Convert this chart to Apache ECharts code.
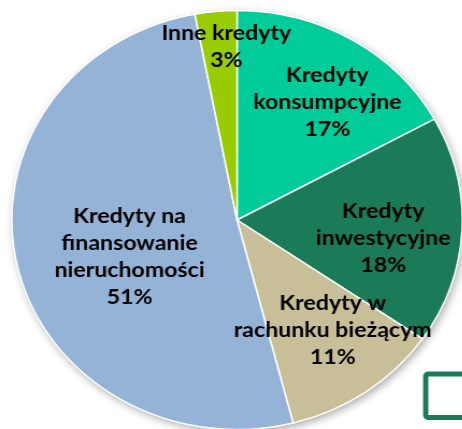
<!DOCTYPE html>
<html>
<head>
<meta charset="utf-8">
<script src="https://cdn.jsdelivr.net/npm/echarts@6/dist/echarts.min.js"></script>
<style>
  html, body { margin: 0; padding: 0; background: #fff; overflow: hidden; }
  /* the source picture is stretched horizontally, so the chart is too */
  #chart { width: 430px; height: 429px; transform: scaleX(1.075); transform-origin: 0 0; }
</style>
</head>
<body>
<div id="chart"></div>
<script>
  var categories = [
    'Kredyty\nkonsumpcyjne',
    'Kredyty\ninwestycyjne',
    'Kredyty w\nrachunku bieżącym',
    'Kredyty na\nfinansowanie\nnieruchomości',
    'Inne kredyty'
  ]
  var shares = [17, 17.6, 11.4, 51, 3]
  var colors = ['#00CC99', '#1B7B58', '#C8BF99', '#95B3D7', '#99CC00']

  // label offsets from the pie centre (px), like Excel's best fit
  var labelOffsets = [[84, -118], [136, 18], [89, 110], [-100, 37], [-10, -173]]
  var cx = 220.5
  var cy = 220
  var radius = 209.5

  var chart = echarts.init(document.getElementById('chart'))

  chart.setOption({
    animation: false,
    series: [
      {
        // backdrop disc that carries the drop shadow
        type: 'pie',
        silent: true,
        center: [cx, cy],
        radius: radius,
        z: 1,
        label: { show: false },
        labelLine: { show: false },
        itemStyle: {
          color: '#fff',
          shadowBlur: 8,
          shadowColor: 'rgba(0,0,0,0.35)',
          shadowOffsetX: 2,
          shadowOffsetY: 3
        },
        data: [{ value: 1, name: '' }]
      },
      {
        type: 'pie',
        center: [cx, cy],
        radius: radius,
        startAngle: 90,
        clockwise: true,
        z: 2,
        itemStyle: {
          borderColor: '#fff',
          borderWidth: 1.5
        },
        label: {
          show: true,
          position: 'inside',
          color: '#000',
          fontFamily: 'Lato',
          fontWeight: 'bold',
          fontSize: 21.5,
          lineHeight: 27,
          align: 'center',
          verticalAlign: 'middle',
          formatter: function (p) {
            return p.name + '\n' + Math.round(p.percent) + '%'
          }
        },
        labelLine: { show: false },
        labelLayout: function (p) {
          var o = labelOffsets[p.dataIndex]
          return { x: cx + o[0], y: cy + o[1] }
        },
        data: categories.map(function (name, i) {
          return { name: name, value: shares[i], itemStyle: { color: colors[i] } }
        })
      }
    ],
    graphic: [
      {
        type: 'rect',
        shape: { x: 396, y: 374, width: 60, height: 43.5, r: 2 },
        style: { fill: '#fff', stroke: '#1B7B58', lineWidth: 4.8 },
        z: 10
      }
    ]
  })
</script>
</body>
</html>
